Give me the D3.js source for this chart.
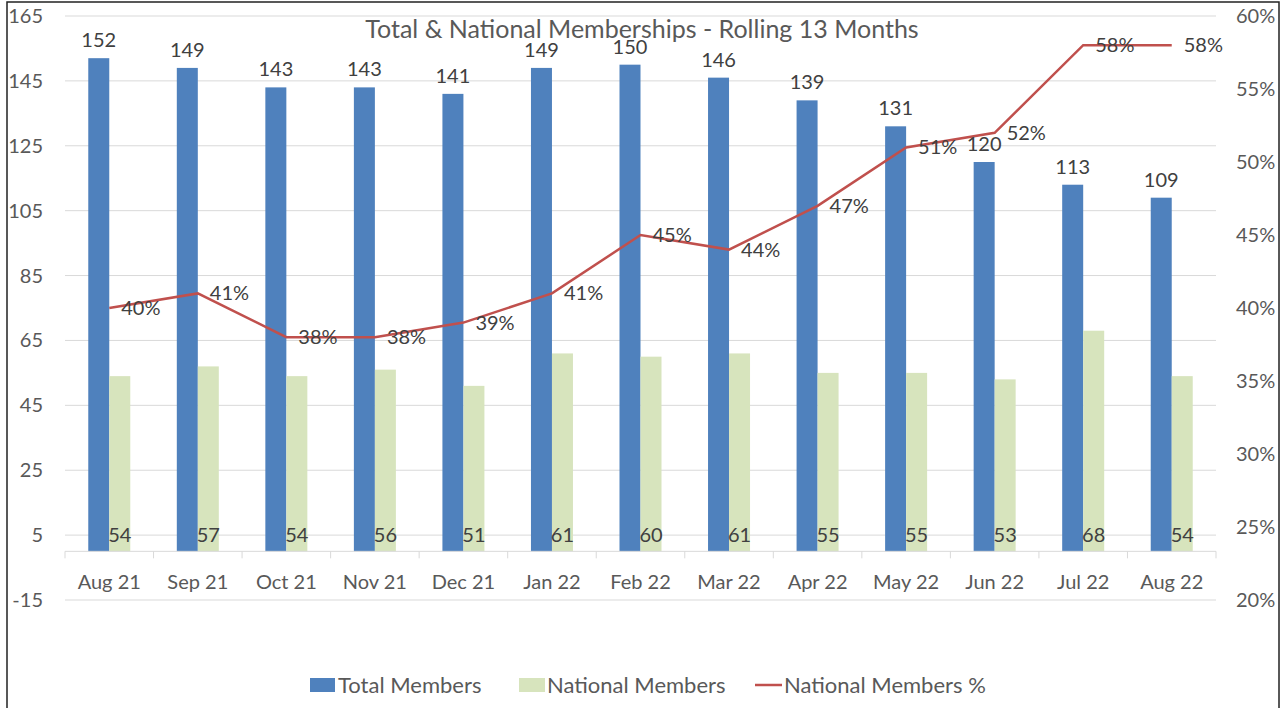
<!DOCTYPE html>
<html lang="en">
  <head>
    <meta charset="UTF-8" />
    <title>memberships</title>
    <style>
      body { margin: 0; background: #fff; }
      text { font-family: Lato, 'Open Sans', sans-serif; }
    </style>
  </head>
  <body>
    <svg id="svg" width="1286" height="708"></svg>
    <script src="https://cdn.jsdelivr.net/npm/d3@7"></script>
    <script>
      const months = ['Aug 21', 'Sep 21', 'Oct 21', 'Nov 21', 'Dec 21', 'Jan 22', 'Feb 22', 'Mar 22', 'Apr 22', 'May 22', 'Jun 22', 'Jul 22', 'Aug 22']
      const totalMembers = [152, 149, 143, 143, 141, 149, 150, 146, 139, 131, 120, 113, 109]
      const nationalMembers = [54, 57, 54, 56, 51, 61, 60, 61, 55, 55, 53, 68, 54]
      const nationalPct = [40, 41, 38, 38, 39, 41, 45, 44, 47, 51, 52, 58, 58]
      const leftTicks = [-15, 5, 25, 45, 65, 85, 105, 125, 145, 165]
      const rightTicks = [20, 25, 30, 35, 40, 45, 50, 55, 60]

      const svg = d3.select('#svg')
      const blue = '#4f81bd'
      const green = '#d7e4bd'
      const red = '#c0504d'
      const txt = '#595959'
      const fs = 20

      // outer border
      svg.append('rect')
        .attr('x', 7).attr('y', 2)
        .attr('width', 1272).attr('height', 720)
        .attr('fill', 'none').attr('stroke', '#222').attr('stroke-width', 1.5)

      const x = d3.scaleBand().domain(months).range([65, 1216])
      const y = d3.scaleLinear().domain([-15, 165]).range([600, 16])
      const y2 = d3.scaleLinear().domain([20, 60]).range([600, 16])
      const barW = 21

      // gridlines
      svg.append('g').selectAll('line').data(leftTicks).enter().append('line')
        .attr('x1', 65).attr('x2', 1216)
        .attr('y1', d => y(d)).attr('y2', d => y(d))
        .attr('stroke', '#d9d9d9').attr('stroke-width', 1)

      // left axis labels
      svg.append('g').selectAll('text').data(leftTicks).enter().append('text')
        .attr('x', 43).attr('y', d => y(d)).attr('dy', '0.35em')
        .attr('text-anchor', 'end').attr('font-size', fs).attr('fill', txt)
        .text(d => d)

      // right axis labels
      svg.append('g').selectAll('text').data(rightTicks).enter().append('text')
        .attr('x', 1236).attr('y', d => y2(d)).attr('dy', '0.35em')
        .attr('text-anchor', 'start').attr('font-size', fs).attr('fill', txt)
        .text(d => d + '%')

      // bars
      svg.append('g').selectAll('rect').data(totalMembers).enter().append('rect')
        .attr('x', (d, i) => x(months[i]) + x.bandwidth() / 2 - barW)
        .attr('y', d => y(d)).attr('width', barW).attr('height', d => y(0) - y(d))
        .attr('fill', blue)
      svg.append('g').selectAll('rect').data(nationalMembers).enter().append('rect')
        .attr('x', (d, i) => x(months[i]) + x.bandwidth() / 2)
        .attr('y', d => y(d)).attr('width', barW).attr('height', d => y(0) - y(d))
        .attr('fill', green)

      // x axis line + ticks
      const ax = svg.append('g')
      ax.append('line').attr('x1', 65).attr('x2', 1216).attr('y1', y(0)).attr('y2', y(0))
        .attr('stroke', '#d9d9d9')
      ax.selectAll('.tk').data(d3.range(14)).enter().append('line')
        .attr('x1', i => 65 + i * x.step()).attr('x2', i => 65 + i * x.step())
        .attr('y1', y(0)).attr('y2', y(0) + 7).attr('stroke', '#d9d9d9')
      ax.selectAll('text').data(months).enter().append('text')
        .attr('x', d => x(d) + x.bandwidth() / 2).attr('y', 582).attr('dy', '0.35em')
        .attr('text-anchor', 'middle').attr('font-size', fs).attr('fill', txt)
        .text(d => d)

      // line
      const line = d3.line()
        .x((d, i) => x(months[i]) + x.bandwidth() / 2)
        .y(d => y2(d))
      svg.append('path').datum(nationalPct).attr('d', line)
        .attr('fill', 'none').attr('stroke', red).attr('stroke-width', 2.5)

      // data labels
      svg.append('g').selectAll('text').data(totalMembers).enter().append('text')
        .attr('x', (d, i) => x(months[i]) + x.bandwidth() / 2 - barW / 2)
        .attr('y', d => y(d) - 11)
        .attr('text-anchor', 'middle').attr('font-size', fs).attr('fill', '#404040')
        .text(d => d)
      svg.append('g').selectAll('text').data(nationalMembers).enter().append('text')
        .attr('x', (d, i) => x(months[i]) + x.bandwidth() / 2 + barW / 2)
        .attr('y', y(5)).attr('dy', '0.35em')
        .attr('text-anchor', 'middle').attr('font-size', fs).attr('fill', '#404040')
        .text(d => d)
      svg.append('g').selectAll('text').data(nationalPct).enter().append('text')
        .attr('x', (d, i) => x(months[i]) + x.bandwidth() / 2 + 12)
        .attr('y', d => y2(d)).attr('dy', '0.35em')
        .attr('text-anchor', 'start').attr('font-size', fs).attr('fill', '#404040')
        .text(d => d + '%')

      // title
      svg.append('text').attr('x', 642).attr('y', 29).attr('dy', '0.35em')
        .attr('text-anchor', 'middle').attr('font-size', 25).attr('fill', txt)
        .text('Total & National Memberships - Rolling 13 Months')

      // legend
      const lg = svg.append('g').attr('transform', 'translate(0,685)')
      lg.append('rect').attr('x', 310).attr('y', -7).attr('width', 25).attr('height', 14).attr('fill', blue)
      lg.append('text').attr('x', 338).attr('dy', '0.35em').attr('font-size', 22).attr('fill', txt).text('Total Members')
      lg.append('rect').attr('x', 519).attr('y', -7).attr('width', 26).attr('height', 14).attr('fill', green)
      lg.append('text').attr('x', 547).attr('dy', '0.35em').attr('font-size', 22).attr('fill', txt).text('National Members')
      lg.append('line').attr('x1', 755).attr('x2', 782).attr('stroke', red).attr('stroke-width', 2.5)
      lg.append('text').attr('x', 784).attr('dy', '0.35em').attr('font-size', 22).attr('fill', txt).text('National Members %')
    </script>
  </body>
</html>
